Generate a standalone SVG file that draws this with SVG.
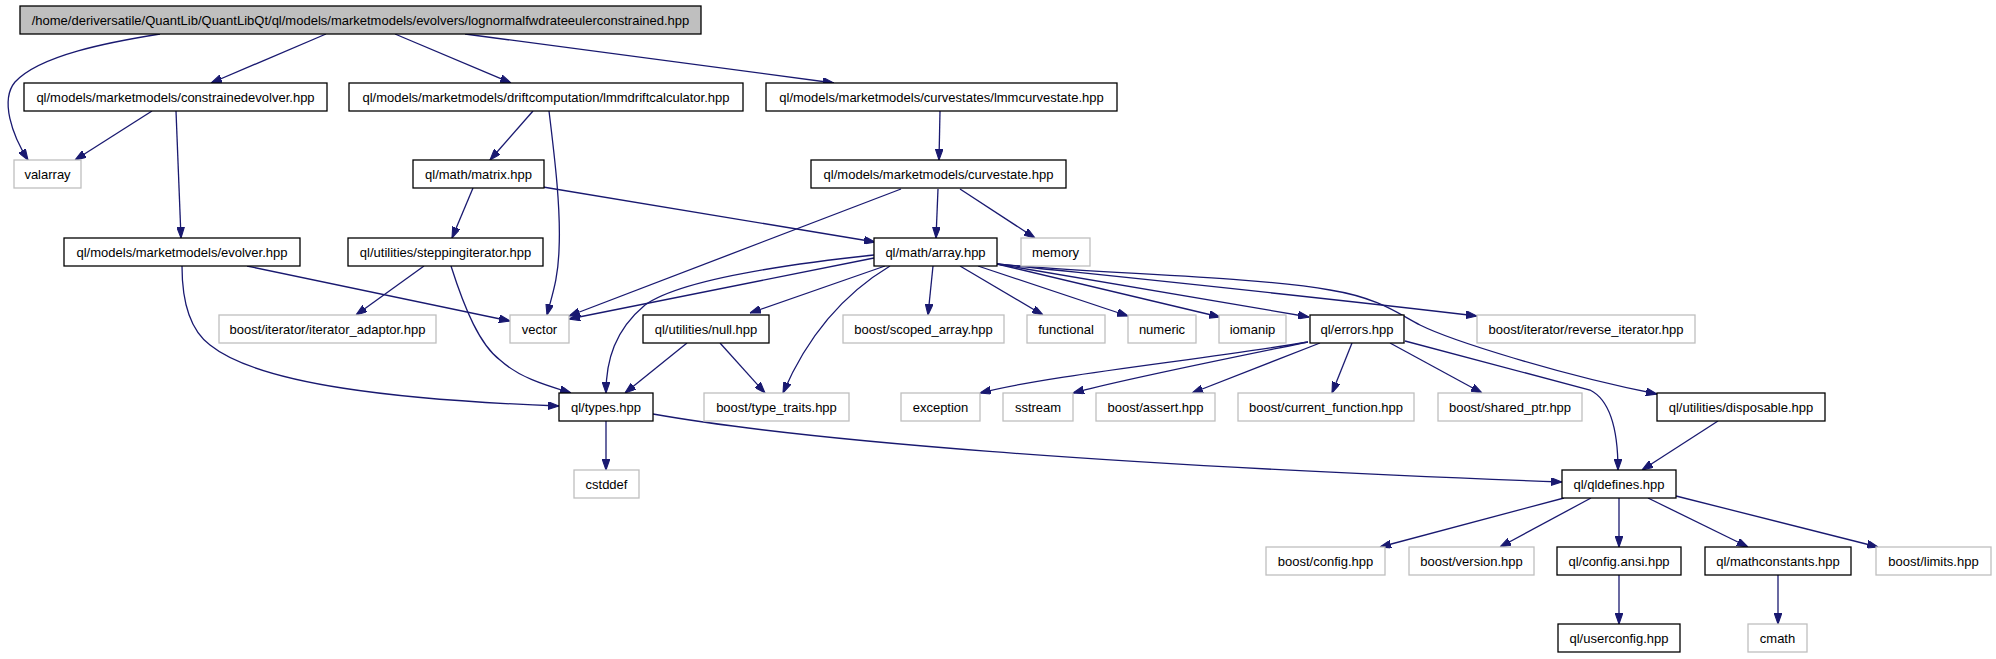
<svg xmlns="http://www.w3.org/2000/svg" width="1996" height="659" viewBox="0 0 1996 659">
<defs>
<marker id="arr" viewBox="0 0 10 7" refX="10" refY="3.5" markerWidth="11" markerHeight="8" markerUnits="userSpaceOnUse" orient="auto">
<path d="M0,0 L10,3.5 L0,7 Z" fill="#191970" stroke="#191970"/>
</marker>
<style>
.n rect{fill:#fff;stroke:#000;stroke-width:1.3}
.g rect{fill:#fff;stroke:#bfbfbf;stroke-width:1.3}
.r rect{fill:#bfbfbf;stroke:#000;stroke-width:1.3}
text{font-family:"Liberation Sans",Arial,sans-serif;font-size:13px;fill:#000;text-anchor:middle}
#edges path{fill:none;stroke:#191970;stroke-width:1.3;marker-end:url(#arr)}
</style>
</defs>
<rect width="1996" height="659" fill="#fff"/>
<g id="edges">
<path d="M160,34 C110,42 40,55 15,82 C0,100 12,135 28,160"/>
<path d="M326,34 L211,83"/>
<path d="M395,34 L511,83"/>
<path d="M465,34 L834,83"/>
<path d="M152,111 L75,160"/>
<path d="M176,111 L181,238"/>
<path d="M533,111 L490,160"/>
<path d="M549,111 C555,160 561,210 559,250 C558,280 552,295 547,315"/>
<path d="M473,188 L452,238"/>
<path d="M543,187 L875,242"/>
<path d="M940,111 L939,160"/>
<path d="M938,189 L936,238"/>
<path d="M960,189 L1035,238"/>
<path d="M901,189 L569,316"/>
<path d="M874,258 L569,319"/>
<path d="M874,255 C780,265 680,280 645,305 C615,330 606,360 606,393"/>
<path d="M885,266 L750,313"/>
<path d="M890,266 C850,290 810,330 783,393"/>
<path d="M933,266 L928,315"/>
<path d="M960,266 L1043,315"/>
<path d="M978,266 L1128,316"/>
<path d="M997,264 L1220,317"/>
<path d="M997,264 L1309,317"/>
<path d="M997,264 C1150,280 1300,295 1477,316"/>
<path d="M997,264 C1100,274 1250,276 1330,290 C1380,298 1400,315 1420,325 C1450,340 1560,375 1657,394"/>
<path d="M687,343 L625,393"/>
<path d="M720,343 L765,393"/>
<path d="M424,266 L356,315"/>
<path d="M451,266 C465,310 480,345 500,360 C520,378 545,385 571,393"/>
<path d="M247,266 L510,321"/>
<path d="M182,266 C182,300 190,330 210,345 C260,385 400,400 559,406"/>
<path d="M606,421 L606,470"/>
<path d="M653,414 C800,440 1100,465 1562,482"/>
<path d="M1308,342 C1200,360 1050,375 980,393"/>
<path d="M1308,342 C1230,358 1120,380 1073,393"/>
<path d="M1320,343 L1192,393"/>
<path d="M1352,343 L1332,393"/>
<path d="M1390,343 L1482,393"/>
<path d="M1405,341 L1590,390 C1610,400 1618,430 1618,470"/>
<path d="M1718,421 L1642,470"/>
<path d="M1564,498 L1380,547"/>
<path d="M1591,498 L1500,547"/>
<path d="M1619,498 L1619,547"/>
<path d="M1648,498 L1748,547"/>
<path d="M1676,496 L1878,547"/>
<path d="M1619,575 L1619,624"/>
<path d="M1778,575 L1778,624"/>
</g>
<g id="n0" class="r"><rect x="20" y="6" width="681" height="28"/><text x="360.5" y="24.5">/home/deriversatile/QuantLib/QuantLibQt/ql/models/marketmodels/evolvers/lognormalfwdrateeulerconstrained.hpp</text></g>
<g id="n1" class="n"><rect x="24" y="83" width="303" height="28"/><text x="175.5" y="101.5">ql/models/marketmodels/constrainedevolver.hpp</text></g>
<g id="n2" class="n"><rect x="349" y="83" width="394" height="28"/><text x="546" y="101.5">ql/models/marketmodels/driftcomputation/lmmdriftcalculator.hpp</text></g>
<g id="n3" class="n"><rect x="766" y="83" width="351" height="28"/><text x="941.5" y="101.5">ql/models/marketmodels/curvestates/lmmcurvestate.hpp</text></g>
<g id="n4" class="g"><rect x="14" y="160" width="67" height="28"/><text x="47.5" y="178.5">valarray</text></g>
<g id="n5" class="n"><rect x="413" y="160" width="131" height="28"/><text x="478.5" y="178.5">ql/math/matrix.hpp</text></g>
<g id="n6" class="n"><rect x="811" y="160" width="255" height="28"/><text x="938.5" y="178.5">ql/models/marketmodels/curvestate.hpp</text></g>
<g id="n7" class="n"><rect x="64" y="238" width="236" height="28"/><text x="182" y="256.5">ql/models/marketmodels/evolver.hpp</text></g>
<g id="n8" class="n"><rect x="348" y="238" width="195" height="28"/><text x="445.5" y="256.5">ql/utilities/steppingiterator.hpp</text></g>
<g id="n9" class="n"><rect x="874" y="238" width="123" height="28"/><text x="935.5" y="256.5">ql/math/array.hpp</text></g>
<g id="n10" class="g"><rect x="1021" y="238" width="69" height="28"/><text x="1055.5" y="256.5">memory</text></g>
<g id="n11" class="g"><rect x="219" y="315" width="217" height="28"/><text x="327.5" y="333.5">boost/iterator/iterator_adaptor.hpp</text></g>
<g id="n12" class="g"><rect x="510" y="315" width="59" height="28"/><text x="539.5" y="333.5">vector</text></g>
<g id="n13" class="n"><rect x="643" y="315" width="126" height="28"/><text x="706" y="333.5">ql/utilities/null.hpp</text></g>
<g id="n14" class="g"><rect x="843" y="315" width="161" height="28"/><text x="923.5" y="333.5">boost/scoped_array.hpp</text></g>
<g id="n15" class="g"><rect x="1027" y="315" width="78" height="28"/><text x="1066" y="333.5">functional</text></g>
<g id="n16" class="g"><rect x="1128" y="315" width="68" height="28"/><text x="1162" y="333.5">numeric</text></g>
<g id="n17" class="g"><rect x="1219" y="315" width="67" height="28"/><text x="1252.5" y="333.5">iomanip</text></g>
<g id="n18" class="n"><rect x="1310" y="315" width="94" height="28"/><text x="1357" y="333.5">ql/errors.hpp</text></g>
<g id="n19" class="g"><rect x="1477" y="315" width="218" height="28"/><text x="1586" y="333.5">boost/iterator/reverse_iterator.hpp</text></g>
<g id="n20" class="n"><rect x="559" y="393" width="94" height="28"/><text x="606" y="411.5">ql/types.hpp</text></g>
<g id="n21" class="g"><rect x="704" y="393" width="145" height="28"/><text x="776.5" y="411.5">boost/type_traits.hpp</text></g>
<g id="n22" class="g"><rect x="901" y="393" width="79" height="28"/><text x="940.5" y="411.5">exception</text></g>
<g id="n23" class="g"><rect x="1003" y="393" width="70" height="28"/><text x="1038" y="411.5">sstream</text></g>
<g id="n24" class="g"><rect x="1096" y="393" width="119" height="28"/><text x="1155.5" y="411.5">boost/assert.hpp</text></g>
<g id="n25" class="g"><rect x="1238" y="393" width="176" height="28"/><text x="1326" y="411.5">boost/current_function.hpp</text></g>
<g id="n26" class="g"><rect x="1438" y="393" width="144" height="28"/><text x="1510" y="411.5">boost/shared_ptr.hpp</text></g>
<g id="n27" class="n"><rect x="1657" y="393" width="168" height="28"/><text x="1741" y="411.5">ql/utilities/disposable.hpp</text></g>
<g id="n28" class="g"><rect x="574" y="470" width="65" height="28"/><text x="606.5" y="488.5">cstddef</text></g>
<g id="n29" class="n"><rect x="1562" y="470" width="114" height="28"/><text x="1619" y="488.5">ql/qldefines.hpp</text></g>
<g id="n30" class="g"><rect x="1266" y="547" width="119" height="28"/><text x="1325.5" y="565.5">boost/config.hpp</text></g>
<g id="n31" class="g"><rect x="1409" y="547" width="125" height="28"/><text x="1471.5" y="565.5">boost/version.hpp</text></g>
<g id="n32" class="n"><rect x="1557" y="547" width="124" height="28"/><text x="1619" y="565.5">ql/config.ansi.hpp</text></g>
<g id="n33" class="n"><rect x="1705" y="547" width="146" height="28"/><text x="1778" y="565.5">ql/mathconstants.hpp</text></g>
<g id="n34" class="g"><rect x="1876" y="547" width="115" height="28"/><text x="1933.5" y="565.5">boost/limits.hpp</text></g>
<g id="n35" class="n"><rect x="1558" y="624" width="122" height="28"/><text x="1619" y="642.5">ql/userconfig.hpp</text></g>
<g id="n36" class="g"><rect x="1748" y="624" width="59" height="28"/><text x="1777.5" y="642.5">cmath</text></g>
</svg>
